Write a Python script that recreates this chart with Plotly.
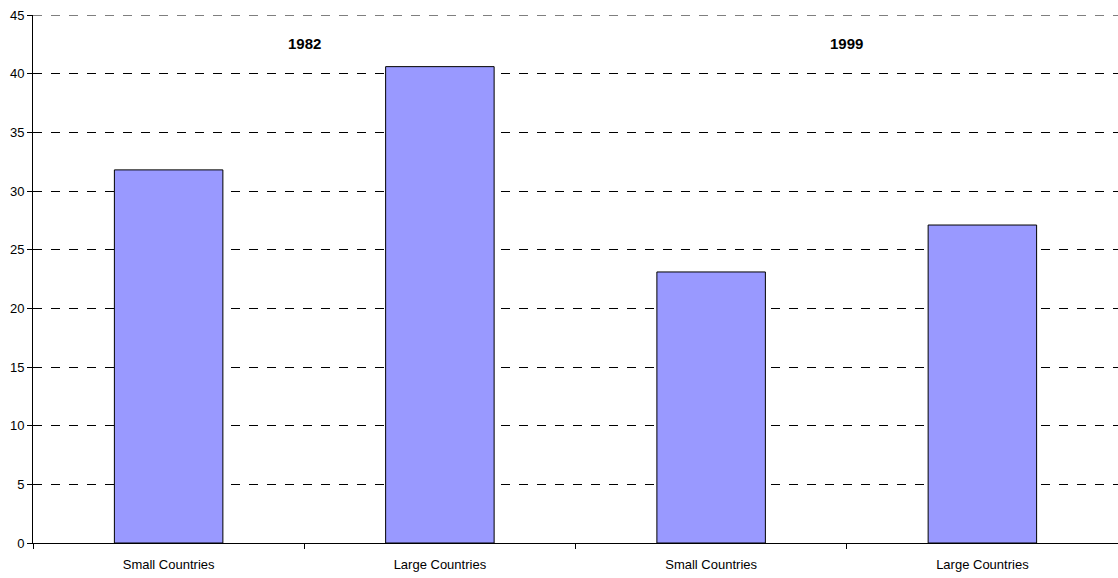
import plotly.graph_objects as go

categories = ["Small Countries", "Large Countries", "Small Countries", "Large Countries"]
values = [31.8, 40.6, 23.1, 27.1]
group_labels = ["1982", "1999"]
group_positions = [0.5, 2.5]
y_ticks = [0, 5, 10, 15, 20, 25, 30, 35, 40, 45]

xpos = list(range(len(categories)))

fig = go.Figure()
fig.add_trace(go.Bar(
    x=xpos, y=values, width=0.4,
    marker=dict(color="#9999FF", line=dict(color="black", width=1)),
    showlegend=False,
))

for lbl, pos in zip(group_labels, group_positions):
    fig.add_annotation(x=pos, y=42.6, text="<b>%s</b>" % lbl, showarrow=False,
                       font=dict(size=15, color="black"), xref="x", yref="y")

# top gridline at the axis maximum (plotly hides grid at range edge)
fig.add_shape(type="line", xref="paper", yref="y", x0=0, x1=1, y0=y_ticks[-1], y1=y_ticks[-1],
              line=dict(color="black", width=1, dash="dash"), layer="below")

fig.update_layout(
    width=1118, height=578,
    margin=dict(l=33, r=0, t=15, b=35),
    paper_bgcolor="white", plot_bgcolor="white",
    font=dict(family="Liberation Sans, Arial, sans-serif", size=12, color="black"),
    bargap=0.6,
)
fig.update_xaxes(
    range=[-0.5, 3.5], tickmode="array", tickvals=xpos, ticktext=categories,
    ticks="", showline=True, linecolor="black", linewidth=1, showgrid=False,
    zeroline=False, tickfont=dict(size=13), ticklabelstandoff=9,
    minor=dict(tickmode="linear", tick0=-0.5, dtick=1, ticks="outside", ticklen=5,
               tickcolor="black", tickwidth=1, showgrid=False),
)
fig.update_yaxes(
    range=[0, 45], tickmode="array", tickvals=y_ticks,
    ticks="outside", ticklen=5, tickcolor="black",
    showline=True, linecolor="black", linewidth=1,
    showgrid=True, gridcolor="black", gridwidth=1, griddash="dash",
    zeroline=False, tickfont=dict(size=13),
)

fig.write_html("out.html", config={"displayModeBar": False},
               post_script="document.body.style.margin='0';document.body.style.overflow='hidden';")
